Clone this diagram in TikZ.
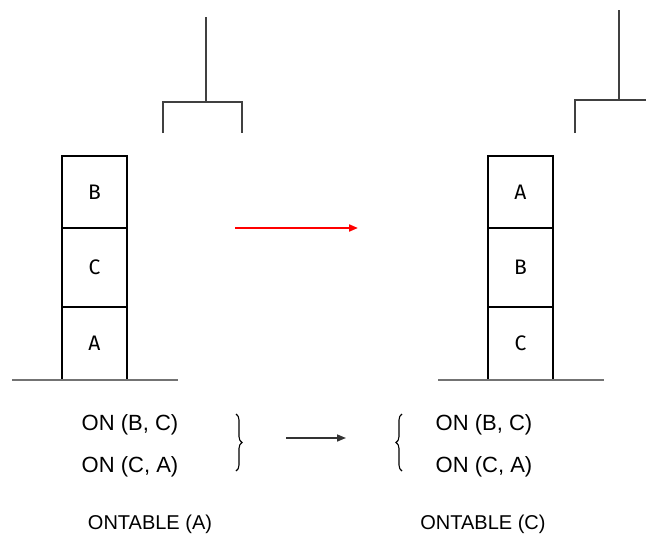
\documentclass[tikz,border=0pt]{standalone}
\usepackage{fontspec}
\setmainfont{Liberation Sans}
\newfontfamily\blockfont{Fira Sans}
\usetikzlibrary{arrows.meta,decorations.pathreplacing}
\begin{document}
\begin{tikzpicture}[x=1pt,y=-1pt,
  blk/.style={draw=black,line width=1.2pt,minimum width=65pt,inner sep=0pt,font=\blockfont\fontsize{21}{24}\selectfont},
  gnd/.style={draw=black!55,line width=1.6pt},
  crane/.style={draw=black!75,line width=1.3pt},
  lbl/.style={font=\fontsize{20}{24}\selectfont,inner sep=0pt},
  onlbl/.style={font=\fontsize{22}{26}\selectfont,inner sep=0pt},
  brc/.style={draw=black,line width=1.1pt,decorate,decoration={brace,amplitude=6pt}},
  arr/.style={line width=1.6pt,-{Triangle[length=9pt,width=7pt]}}]
\useasboundingbox (0,0) rectangle (646,538);
% left stack
\node[blk,minimum height=72pt] (lB) at (94.5,192) {B};
\node[blk,minimum height=79pt] (lC) at (94.5,267.5) {C};
\node[blk,minimum height=73pt] (lA) at (94.5,343.5) {A};
\coordinate (lg1) at (12,380);
\coordinate (lg2) at (178,380);
\draw[gnd] (lg1) -- (lg2);
% right stack
\node[blk,minimum height=72pt] (rA) at (520.5,192) {A};
\node[blk,minimum height=79pt] (rB) at (520.5,267.5) {B};
\node[blk,minimum height=73pt] (rC) at (520.5,343.5) {C};
\coordinate (rg1) at (438,380);
\coordinate (rg2) at (604,380);
\draw[gnd] (rg1) -- (rg2);
% left crane
\coordinate (lc0) at (206,17);
\coordinate (lc1) at (206,102);
\coordinate (lc2) at (163,102);
\coordinate (lc3) at (242,102);
\draw[crane] (lc0) -- (lc1);
\draw[crane] (lc2 |- 0,133) -- (lc2) -- (lc3) -- (lc3 |- 0,133);
% right crane
\coordinate (rc0) at (619,10);
\coordinate (rc1) at (619,100);
\coordinate (rc2) at (575,100);
\coordinate (rc3) at (646,100);
\draw[crane] (rc0) -- (rc1);
\draw[crane] (rc2 |- 0,133) -- (rc2) -- (rc3);
% red arrow
\coordinate (ra1) at (235,228);
\coordinate (ra2) at (358,228);
\draw[arr,red,line width=2pt] (ra1) -- (ra2);
% text
\node[onlbl] (l1) at (130,425) {ON (B, C)};
\node[onlbl] (l2) at (130,467) {ON (C, A)};
\node[lbl] (l3) at (150,524) {ONTABLE (A)};
\node[onlbl] (r1) at (484,425) {ON (B, C)};
\node[onlbl] (r2) at (484,467) {ON (C, A)};
\node[lbl] (r3) at (483,524) {ONTABLE (C)};
% braces
\coordinate (b1t) at (236,414);
\coordinate (b1b) at (236,471);
\draw[brc] (b1t) -- (b1b);
\coordinate (b2t) at (402,414);
\coordinate (b2b) at (402,471);
\draw[brc] (b2b) -- (b2t);
% black arrow
\coordinate (ba1) at (286,438);
\coordinate (ba2) at (346,438);
\draw[arr,black!80] (ba1) -- (ba2);
\end{tikzpicture}
\end{document}
